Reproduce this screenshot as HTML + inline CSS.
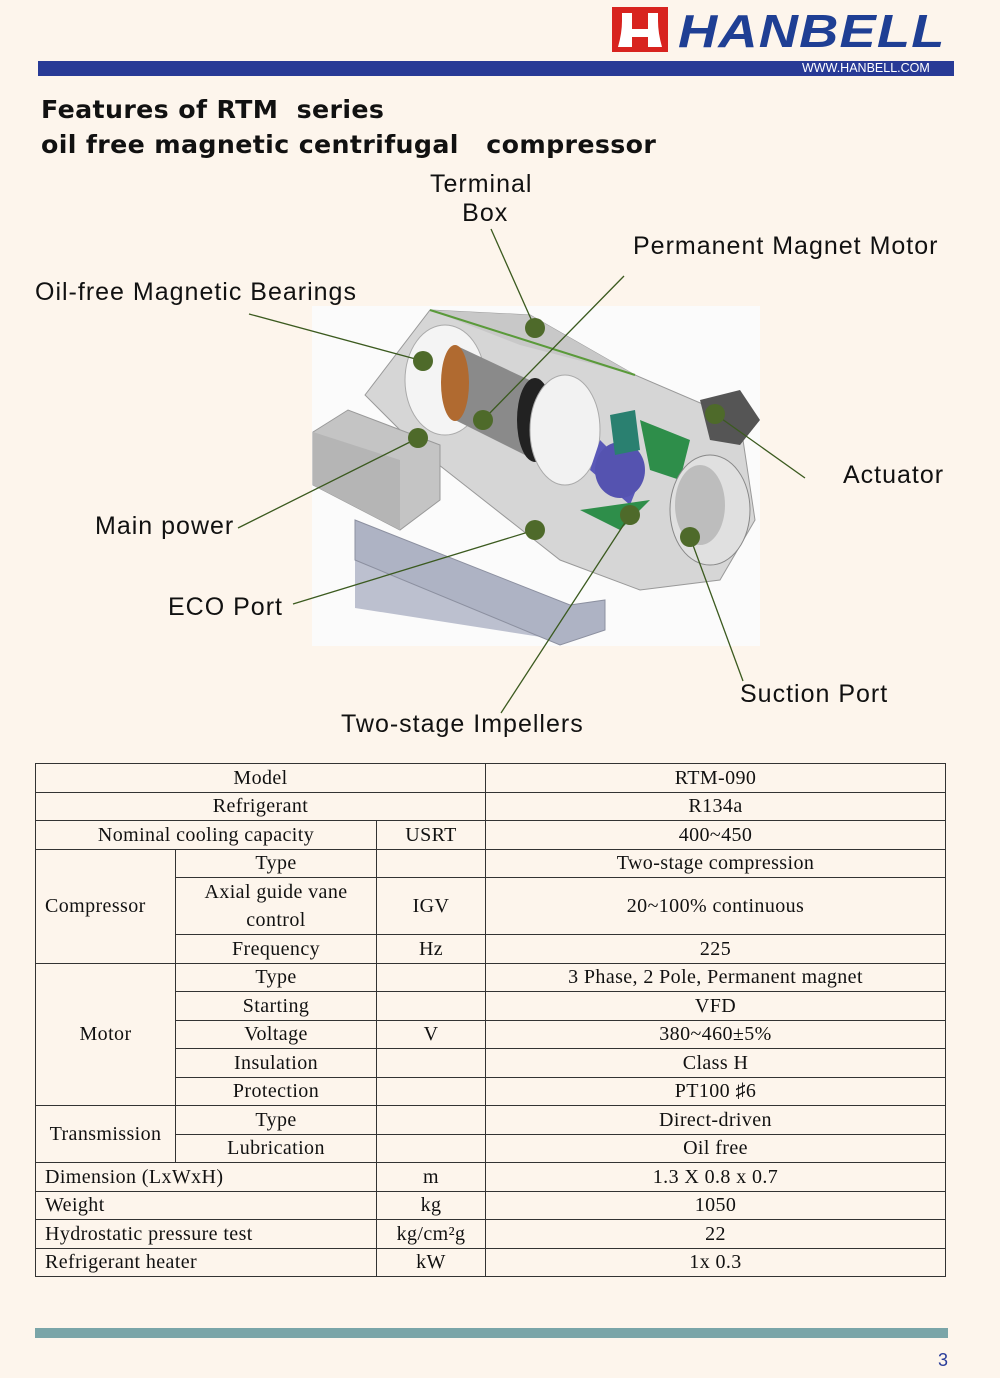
<!DOCTYPE html>
<html><head><meta charset="utf-8"><style>
body{margin:0;background:#fdf5ec;width:1000px;height:1378px;position:relative;overflow:hidden;font-family:"Liberation Sans",sans-serif}
.a{position:absolute}
.lbl{position:absolute;font-size:25px;letter-spacing:1px;color:#111;white-space:nowrap}
table{position:absolute;left:35px;top:763px;width:911px;border-collapse:collapse;font-family:"Liberation Serif",serif;font-size:20px;letter-spacing:0.4px;color:#111}
td{border:1px solid #333;height:27.5px;padding:0;text-align:center;line-height:20px}
td.l{text-align:left;padding-left:9px}
</style></head><body>
<div class="a" style="left:612px;top:7px;width:56px;height:45px;background:#d8231f"></div>
<svg class="a" style="left:612px;top:7px" width="56" height="45"><path d="M10 6h10v16h16V6h10v8q0 12 4 26H36V30H20v10H6q4-14 4-26z" fill="#fff"/></svg>
<div class="a" style="left:678px;top:4px;font-size:46px;font-weight:bold;font-style:italic;color:#1f3f94;letter-spacing:1px;transform:scaleX(1.18);transform-origin:left">HANBELL</div>
<div class="a" style="left:38px;top:61px;width:916px;height:15px;background:#283a96"></div>
<div class="a" style="left:802px;top:61px;font-size:12.5px;color:#fff;line-height:15px">WWW.HANBELL.COM</div>
<div class="a" style="left:41px;top:92px;font-size:25.3px;font-weight:bold;color:#111;line-height:35px;font-family:'DejaVu Sans',sans-serif;letter-spacing:0.35px">Features of RTM&nbsp; series<br>oil free magnetic centrifugal&nbsp;&nbsp; compressor</div>
<div class="a" style="left:312px;top:306px;width:448px;height:340px;background:#fbfbfb"></div>
<svg class="a" style="left:0;top:0" width="1000" height="760">
<polygon points="355,608 560,640 605,600 605,630 560,645 355,560" fill="#bcc0cf"/>
<polygon points="355,520 570,605 605,600 605,630 560,645 355,560" fill="#aeb3c4" stroke="#8c90a0"/>
<polygon points="365,395 430,310 530,315 635,375 740,420 755,520 720,580 640,590 560,560 420,450" fill="#d6d6d6" stroke="#999"/>
<polygon points="430,310 530,315 635,375 520,345" fill="#c8c8c8"/>
<ellipse cx="445" cy="380" rx="40" ry="55" fill="#f4f4f4" stroke="#aaa"/>
<polygon points="455,345 540,385 535,460 455,420" fill="#8a8a8a"/>
<ellipse cx="455" cy="383" rx="14" ry="38" fill="#b06a30"/>
<ellipse cx="535" cy="420" rx="18" ry="42" fill="#222"/>
<ellipse cx="565" cy="430" rx="35" ry="55" fill="#f2f2f2" stroke="#aaa"/>
<polygon points="600,440 640,480 630,505 590,470" fill="#5a58b8"/>
<ellipse cx="620" cy="470" rx="25" ry="28" fill="#5553b0"/>
<polygon points="640,420 690,440 680,480 650,470" fill="#2e8e4a"/>
<polygon points="580,510 650,500 620,530" fill="#2e8e4a"/>
<polygon points="610,415 635,410 640,450 615,455" fill="#2a8070"/>
<ellipse cx="710" cy="510" rx="40" ry="55" fill="#e0e0e0" stroke="#888"/>
<ellipse cx="700" cy="505" rx="25" ry="40" fill="#bdbdbd"/>
<polygon points="700,400 740,390 760,420 740,445 710,440" fill="#555"/>
<polygon points="313,432 348,410 440,445 440,500 400,530 313,485" fill="#c4c4c4" stroke="#999"/>
<polygon points="313,432 400,460 400,530 313,485" fill="#b5b5b5"/>
<line x1="430" y1="310" x2="635" y2="375" stroke="#5a9a3a" stroke-width="2"/>
<g stroke="#3b5a1f" stroke-width="1.3" fill="none">
<line x1="491" y1="229" x2="535" y2="328"/>
<line x1="249" y1="314" x2="423" y2="361"/>
<line x1="624" y1="276" x2="483" y2="420"/>
<line x1="238" y1="528" x2="418" y2="438"/>
<line x1="805" y1="478" x2="715" y2="414"/>
<line x1="293" y1="604" x2="535" y2="530"/>
<line x1="501" y1="713" x2="630" y2="515"/>
<line x1="743" y1="681" x2="690" y2="537"/>
</g>
<g fill="#4e6a2a">
<circle cx="535" cy="328" r="10"/><circle cx="423" cy="361" r="10"/><circle cx="483" cy="420" r="10"/>
<circle cx="418" cy="438" r="10"/><circle cx="715" cy="414" r="10"/><circle cx="535" cy="530" r="10"/>
<circle cx="630" cy="515" r="10"/><circle cx="690" cy="537" r="10"/></g>
</svg>
<div class="lbl" style="left:430px;top:170px;text-align:center;line-height:29px">Terminal<br>&nbsp;Box</div>
<div class="lbl" style="left:633px;top:232px">Permanent Magnet Motor</div>
<div class="lbl" style="left:35px;top:278px">Oil-free Magnetic Bearings</div>
<div class="lbl" style="left:843px;top:461px">Actuator</div>
<div class="lbl" style="left:95px;top:512px">Main power</div>
<div class="lbl" style="left:168px;top:593px">ECO Port</div>
<div class="lbl" style="left:740px;top:680px">Suction Port</div>
<div class="lbl" style="left:341px;top:710px">Two-stage Impellers</div>
<table>
<colgroup><col style="width:140px"><col style="width:201px"><col style="width:109px"><col></colgroup>
<tr><td colspan="3">Model</td><td>RTM-090</td></tr>
<tr><td colspan="3">Refrigerant</td><td>R134a</td></tr>
<tr><td colspan="2">Nominal cooling capacity</td><td>USRT</td><td>400~450</td></tr>
<tr><td rowspan="3" class="l">Compressor</td><td>Type</td><td></td><td>Two-stage compression</td></tr>
<tr><td style="height:55px;line-height:28px">Axial guide vane<br>control</td><td>IGV</td><td>20~100% continuous</td></tr>
<tr><td>Frequency</td><td>Hz</td><td>225</td></tr>
<tr><td rowspan="5">Motor</td><td>Type</td><td></td><td>3 Phase, 2 Pole, Permanent magnet</td></tr>
<tr><td>Starting</td><td></td><td>VFD</td></tr>
<tr><td>Voltage</td><td>V</td><td>380~460±5%</td></tr>
<tr><td>Insulation</td><td></td><td>Class H</td></tr>
<tr><td>Protection</td><td></td><td>PT100 ♯6</td></tr>
<tr><td rowspan="2">Transmission</td><td>Type</td><td></td><td>Direct-driven</td></tr>
<tr><td>Lubrication</td><td></td><td>Oil free</td></tr>
<tr><td colspan="2" class="l">Dimension (LxWxH)</td><td>m</td><td>1.3 X 0.8 x 0.7</td></tr>
<tr><td colspan="2" class="l">Weight</td><td>kg</td><td>1050</td></tr>
<tr><td colspan="2" class="l">Hydrostatic pressure test</td><td>kg/cm²g</td><td>22</td></tr>
<tr><td colspan="2" class="l">Refrigerant heater</td><td>kW</td><td>1x 0.3</td></tr>
</table>
<div class="a" style="left:35px;top:1328px;width:913px;height:10px;background:#7aa5a8"></div>
<div class="a" style="left:938px;top:1350px;font-size:18px;color:#2a3d9a">3</div>
</body></html>
